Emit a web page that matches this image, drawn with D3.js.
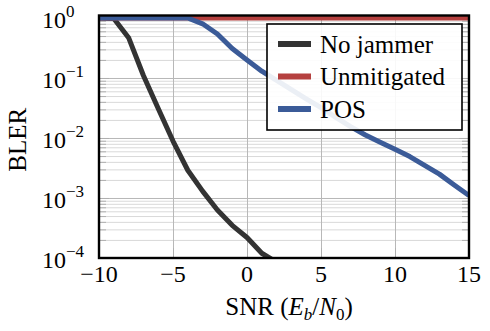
<!DOCTYPE html>
<html>
<head>
<meta charset="utf-8">
<script src="https://cdn.jsdelivr.net/npm/d3@7/dist/d3.min.js"></script>
<style>
    body { margin: 0; background: #fff; }
    text { font-family: "Liberation Serif", "Times New Roman", serif; fill: #000; }
    .grid line { stroke: #b8b8b8; stroke-width: 1; }
    .grid.minor line { stroke: #d9d9d9; }
    .grid path { display: none; }
    .tick-in line { stroke: #b0b0b0; stroke-width: 1; }
    .tick-in path { display: none; }
    .line { fill: none; stroke-width: 5; stroke-linejoin: round; }
</style>
</head>
<body>
<div id="chart"></div>
<script>
// SNR (Eb/N0) in dB and BLER for each curve
let snrNoJammer = [-10, -9, -8, -7, -6, -5, -4, -3, -2, -1, 0, 1, 2]
let blerNoJammer = [1, 0.98, 0.47, 0.11, 0.031, 0.0089, 0.0029, 0.0013, 0.00063, 0.00035, 0.00022, 0.00012, 0.000085]

let snrUnmitigated = [-10, -5, 0, 5, 10, 15]
let blerUnmitigated = [1, 1, 1, 1, 1, 1]

let snrPos = [-10, -9, -8, -7, -6, -5, -4, -3, -2, -1, 0, 1, 2, 3, 4, 5, 6, 7, 8, 9, 10, 11, 12, 13, 14, 15]
let blerPos = [1, 1, 1, 1, 1, 1, 1, 0.8, 0.54, 0.31, 0.2, 0.13, 0.091, 0.064, 0.045, 0.032, 0.022, 0.0155, 0.0112, 0.0085, 0.0065, 0.0049, 0.0035, 0.0025, 0.00165, 0.0011]

let seriesNames = ['No jammer', 'Unmitigated', 'POS']
let seriesColors = ['#333333', '#b5403f', '#3b5b98']

let xTicks = [-10, -5, 0, 5, 10, 15]
let xTickLabels = ['\u221210', '\u22125', '0', '5', '10', '15']
let yTicks = [1, 0.1, 0.01, 0.001, 0.0001]
let yTickExponents = ['0', '\u22121', '\u22122', '\u22123', '\u22124']

let serif = '"Liberation Serif", "Times New Roman", serif'

let margin = {
    bottom: 73,
    left: 99,
    right: 21,
    top: 15.5
}

class Plot {
    constructor(container, width, height) {
        this.container = container
        this.externalWidth = width
        this.externalHeight = height
        this.width = width - (margin.left + margin.right)
        this.height = height - (margin.top + margin.bottom)
        this.series = [
            { name: seriesNames[0], color: seriesColors[0], x: snrNoJammer, y: blerNoJammer },
            { name: seriesNames[1], color: seriesColors[1], x: snrUnmitigated, y: blerUnmitigated },
            { name: seriesNames[2], color: seriesColors[2], x: snrPos, y: blerPos }
        ]

        this.draw()
    }

    draw() {
        this.svg = d3.select(this.container).append('svg')
            .attr('width', this.externalWidth)
            .attr('height', this.externalHeight)
            .append('g')
            .attr('transform', 'translate(' + margin.left + ',' + margin.top + ')')

        this.createScales()
        this.drawGrid()
        this.drawPaths()
        this.drawFrame()
        this.drawLabels()
        this.drawLegend()
    }

    createScales() {
        this.xScale = d3.scaleLinear()
            .domain([-10, 15])
            .range([0, this.width])

        // top sits a little above 10^0, like the source figure
        this.yScale = d3.scaleLog()
            .domain([1e-4, 1.1])
            .range([this.height, 0])
    }

    drawGrid() {
        let minor = []
        yTicks.slice(0, 4).forEach((d) => {
            for (let m = 2; m <= 9; m++) minor.push(d / 10 * m)
        })

        this.svg.append('g')
            .attr('class', 'grid minor')
            .call(d3.axisLeft(this.yScale).tickValues(minor).tickSize(-this.width).tickFormat(''))

        this.svg.append('g')
            .attr('class', 'grid')
            .call(d3.axisLeft(this.yScale).tickValues(yTicks).tickSize(-this.width).tickFormat(''))

        this.svg.append('g')
            .attr('class', 'grid')
            .attr('transform', 'translate(0,' + this.height + ')')
            .call(d3.axisBottom(this.xScale).tickValues(xTicks).tickSize(-this.height).tickFormat(''))

        // short inward ticks on all four sides
        let tickGroups = [
            [d3.axisLeft, minor, 7, 0, 0], [d3.axisLeft, yTicks, 10, 0, 0],
            [d3.axisRight, minor, 7, this.width, 0], [d3.axisRight, yTicks, 10, this.width, 0],
            [d3.axisBottom, xTicks, 10, 0, this.height], [d3.axisTop, xTicks, 10, 0, 0]
        ]
        tickGroups.forEach((t) => {
            let scale = (t[0] === d3.axisLeft || t[0] === d3.axisRight) ? this.yScale : this.xScale
            this.svg.append('g')
                .attr('class', 'tick-in')
                .attr('transform', 'translate(' + t[3] + ',' + t[4] + ')')
                .call(t[0](scale).tickValues(t[1]).tickSize(-t[2]).tickFormat(''))
        })
    }

    drawPaths() {
        this.svg.append('clipPath')
            .attr('id', 'plot-clip')
            .append('rect')
            .attr('width', this.width)
            .attr('height', this.height)

        let area = this.svg.append('g').attr('clip-path', 'url(#plot-clip)')

        this.series.forEach((s) => {
            let line = d3.line()
                .x((d, i) => this.xScale(s.x[i]))
                .y((d) => this.yScale(d))

            area.append('path')
                .datum(s.y)
                .attr('class', 'line')
                .attr('stroke', s.color)
                .attr('d', line)
        })
    }

    drawFrame() {
        this.svg.append('rect')
            .attr('width', this.width)
            .attr('height', this.height)
            .attr('fill', 'none')
            .attr('stroke', '#000')
            .attr('stroke-width', 2.4)
    }

    drawLabels() {
        let xl = this.svg.append('g')
        xTicks.forEach((d, i) => {
            xl.append('text')
                .attr('x', this.xScale(d))
                .attr('y', this.height + 24)
                .attr('text-anchor', 'middle')
                .style('font-size', '24px')
                .text(xTickLabels[i])
        })

        let yl = this.svg.append('g')
        yTicks.forEach((d, i) => {
            let t = yl.append('text')
                .attr('x', -57)
                .attr('y', this.yScale(d) + 10)
                .style('font-size', '24px')
            t.append('tspan').text('10')
            t.append('tspan')
                .attr('dy', -11)
                .style('font-size', '17px')
                .text(yTickExponents[i])
        })

        let lab = this.svg.append('text')
            .attr('x', this.width / 2 + 5)
            .attr('y', this.height + 57)
            .attr('text-anchor', 'middle')
            .style('font-size', '25px')
        lab.append('tspan').text('SNR (')
        lab.append('tspan').style('font-style', 'italic').text('E')
        lab.append('tspan').attr('dy', 5).style('font-size', '17px').style('font-style', 'italic').text('b')
        lab.append('tspan').attr('dy', -5).text('/')
        lab.append('tspan').style('font-style', 'italic').text('N')
        lab.append('tspan').attr('dy', 5).style('font-size', '17px').text('0')
        lab.append('tspan').attr('dy', -5).text(')')

        this.svg.append('text')
            .attr('transform', 'translate(' + (-73) + ',' + (this.height / 2 + 3) + ') rotate(-90)')
            .attr('text-anchor', 'middle')
            .style('font-size', '25px')
            .text('BLER')
    }

    drawLegend() {
        let lg = this.svg.append('g')
            .attr('transform', 'translate(' + (267 - margin.left) + ',' + (24 - margin.top) + ')')

        lg.append('rect')
            .attr('width', 195)
            .attr('height', 106)
            .attr('fill', '#fff')
            .attr('fill-opacity', 0.9)
            .attr('stroke', '#000')
            .attr('stroke-width', 1.6)

        this.series.forEach((s, i) => {
            let y = 20 + i * 32.5
            lg.append('line')
                .attr('x1', 11)
                .attr('x2', 44)
                .attr('y1', y)
                .attr('y2', y)
                .attr('stroke', s.color)
                .attr('stroke-width', 6)
            lg.append('text')
                .attr('x', 53)
                .attr('y', y + 8.5)
                .style('font-family', serif)
                .style('font-size', '25px')
                .text(s.name)
        })
    }
}

new Plot('#chart', 490, 331)
</script>
</body>
</html>
